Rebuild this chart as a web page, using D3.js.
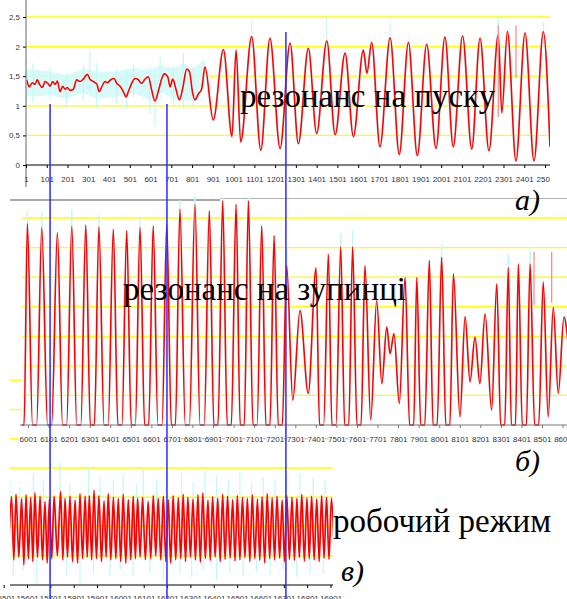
<!DOCTYPE html>
<html>
<head>
<meta charset="utf-8">
<script src="https://cdn.jsdelivr.net/npm/d3@7"></script>
<style>
  body { margin: 0; background: #fff; }
  svg { display: block; }
  .tick text { font-family: "Liberation Sans", Arial, sans-serif; font-size: 8px; fill: #333; }
  .note { font-family: "Liberation Serif", "Times New Roman", "DejaVu Serif", serif; font-size: 33px; fill: #000; }
  .tag { font-family: "Liberation Serif", "Times New Roman", "DejaVu Serif", serif; font-size: 30px; font-style: italic; fill: #000; }
</style>
</head>
<body>
<div id="chart"></div>
<script>
// ---- data ----

// a) start-up: [sample, value] of the smoothed (red) trace
const aPoints = [
  [4,1.44],[17,1.32],[31,1.39],[44,1.36],[55,1.44],[68,1.35],[81,1.31],[92,1.41],[106,1.38],[117,1.33],
  [130,1.41],[141,1.36],[152,1.42],[165,1.24],[178,1.33],[189,1.28],[200,1.31],[213,1.26],[229,1.28],[245,1.44],
  [261,1.41],[277,1.45],[296,1.53],[309,1.45],[325,1.41],[342,1.37],[353,1.24],[366,1.32],[382,1.41],[393,1.39],
  [409,1.44],[425,1.46],[438,1.38],[454,1.33],[470,1.24],[483,1.15],[494,1.24],[510,1.38],[526,1.46],[542,1.44],
  [558,1.38],[574,1.45],[590,1.49],[606,1.27],[622,1.08],[638,1.24],[655,1.46],[667,1.54],[684,1.49],[695,1.32],
  [708,1.45],[724,1.27],[740,1.10],[756,1.30],[775,1.62],[788,1.58],[804,1.21],[815,1.10],[831,1.20],[847,1.28],
  [863,1.66],[903,0.76],[952,1.95],[993,0.48],[1013,1.94],[1035,0.39],[1088,2.17],[1132,0.25],[1176,2.14],[1225,0.28],
  [1273,2.06],[1313,0.36],[1361,1.97],[1401,0.53],[1450,2.10],[1490,0.51],[1538,1.89],[1578,0.48],[1626,1.94],[1643,1.55],
  [1666,2.07],[1706,0.31],[1755,2.15],[1799,0.18],[1843,2.07],[1886,0.16],[1931,2.04],[1976,0.28],[2019,2.16],[2059,0.31],
  [2104,2.18],[2148,0.27],[2188,2.14],[2231,0.24],[2276,2.20],[2293,0.88],[2320,2.26],[2361,0.07],[2405,2.23],[2448,0.07],
  [2493,2.25],[2525,0.31]
];
// a) raw (cyan) noise: dense core of the band and the longer spikes
const aNoiseIdx  = [1, 60, 117, 197, 277, 342, 438, 518, 598, 647, 711, 759, 807, 863];
const aNoiseHigh = [1.62,1.60,1.58,1.52,1.62,1.58,1.58,1.64,1.60,1.68,1.64,1.72,1.62,1.80];
const aNoiseLow  = [1.16,1.16,1.18,1.12,1.22,1.12,1.16,1.22,1.10,1.24,1.12,1.10,1.08,1.30];
const aSpikes = [
  [4,1.77,1.0],[35,1.72,1.05],[117,1.66,1.10],[197,1.55,0.98],[277,1.69,1.10],[309,1.94,1.25],
  [342,1.72,0.96],[438,1.62,1.05],[486,1.60,0.95],[518,1.72,1.15],[598,1.66,0.87],[622,1.60,0.64],
  [647,1.83,1.10],[711,1.66,1.00],[759,1.89,0.94],[807,1.66,1.00],[1088,2.45,2.0],[1450,2.50,2.0],
  [1755,2.40,2.0],[2276,2.48,2.0],[2493,2.42,2.0]
];
// a) single outlier samples [sample, from, to]
const aOutliers = [[2276, 2.36, 0.81], [2361, 2.36, 1.47]];
const aTicks = [1,101,201,301,401,501,601,701,801,901,1001,1101,1201,1301,1401,1501,1601,1701,1801,1901,2001,2101,2201,2301,2401,2501];
const aGrid = [0.5, 1, 1.5, 2, 2.5];
const aYTicks = [0, 0.5, 1, 1.5, 2, 2.5];

// b) stopping: peaks and troughs [sample, value]
const bPeaks = [
  [5998,6.81],[6068,6.68],[6144,6.51],[6214,6.73],[6282,6.76],[6346,6.70],[6416,6.62],[6481,6.57],[6546,6.68],[6610,6.73],
  [6676,6.79],[6740,7.30],[6813,7.46],[6883,7.24],[6948,7.58],[7013,7.46],[7073,7.58],[7138,6.73],[7198,6.40],[7259,5.39],
  [7324,3.87],[7402,5.31],[7462,5.78],[7522,6.03],[7580,6.03],[7640,5.39],[7697,4.21],[7746,3.31],[7781,3.09],[7835,4.99],
  [7892,4.99],[7953,5.56],[8013,5.67],[8070,5.11],[8127,3.67],[8175,2.97],[8224,3.76],[8281,4.77],[8337,5.33],[8386,5.44],
  [8443,5.44],[8507,4.83],[8556,3.98],[8608,3.65]
];
const bTroughs = [
  [5972,0],[6033,0],[6106,0],[6179,0],[6248,0],[6314,0],[6381,0],[6448,0],[6513,0],[6578,0],
  [6643,0],[6708,0],[6776,0],[6848,0],[6915,0],[6980,0],[7043,0],[7105,0],[7168,0],[7228,0],
  [7289,0.84],[7364,1.07],[7429,0],[7489,0],[7551,0],[7611,0],[7668,0.17],[7722,1.40],[7762,2.41],[7807,0.73],
  [7867,0],[7921,0],[7981,0],[8043,0],[8102,0.28],[8151,1.46],[8199,1.40],[8256,0.51],[8310,0],[8362,0],
  [8415,0],[8475,0],[8531,0.28],[8580,1.07],[8630,2.6]
];
// b) raw (cyan) tips sticking out above some peaks [sample, value]
const bTips = [[5998,7.25],[6068,7.2],[6214,7.3],[6346,7.1],[6546,7.0],[6676,7.35],[6740,7.6],[6813,7.7],[6948,7.7],
  [7073,7.7],[7259,6.0],[7522,6.5],[7580,6.6],[8013,6.1],[8337,5.8],[8443,5.9]];
const bOutliers = [[8462, 5.86, 4.06], [8548, 5.86, 4.13]];
const bTicks = [6001,6101,6201,6301,6401,6501,6601,6701,6801,6901,7001,7101,7201,7301,7401,7501,7601,7701,7801,7901,8001,8101,8201,8301,8401,8501,8601];
const bGrid = [1, 2, 3, 4, 5, 6, 7];

// c) working mode: peaks and the troughs between them
const cPeakIdx = [
  15535,15554,15578,15597,15617,15635,15657,15678,15697,15717,
  15745,15764,15785,15807,15828,15850,15868,15888,15909,15931,
  15949,15971,15992,16013,16035,16056,16075,16096,16120,16142,
  16163,16185,16206,16227,16249,16270,16290,16312,16333,16354,
  16376,16396,16418,16439,16460,16482,16502,16524,16545,16566,
  16588,16608,16630,16651,16672,16694,16714,16736,16757,16778,
  16800,16820,16842,16863,16884,16905
];
const cPeakVal = [
  3.02,3.10,2.95,3.08,3.00,3.15,3.04,2.85,2.95,3.05,
  3.20,2.96,3.04,2.90,3.12,3.04,3.06,3.24,3.06,2.88,
  3.12,3.00,2.95,3.10,2.92,3.04,2.96,3.00,2.86,3.06,
  2.96,3.04,2.92,3.06,2.98,3.10,3.00,2.94,3.08,3.14,
  2.90,3.02,2.96,3.10,3.04,2.92,3.06,3.00,2.96,3.08,
  2.94,3.02,3.12,2.98,3.04,2.90,3.06,3.00,2.96,3.10,
  2.98,3.04,2.94,3.06,3.00,2.96
];
const cTroughVal = [
  0.86,0.95,0.69,0.90,0.80,0.95,0.86,0.75,0.90,1.00,
  0.86,0.95,0.80,0.75,0.90,0.95,0.86,0.90,0.80,0.95,
  0.86,0.90,0.80,0.75,0.86,0.90,0.95,0.86,0.90,1.00,
  0.86,0.80,0.75,0.86,0.90,0.80,0.95,0.86,0.78,0.90,
  0.84,0.96,0.80,0.88,0.92,0.82,0.86,0.94,0.80,0.90,
  0.84,0.76,0.90,0.86,0.92,0.80,0.88,0.84,0.94,0.82,
  0.90,0.86,0.80,0.92,0.88
];
// c) raw (cyan) spikes
const cSpikeUpIdx = [15528,15571,15628,15671,15742,15785,15864,15914,15971,16013,16071,16099,16156,16199,16263,16313,16363,16413,16463,16513,16563,16613,16663,16713,16770,16827,16877];
const cSpikeUpVal = [3.59,3.36,3.83,3.59,4.17,3.48,4.04,3.70,3.59,3.83,3.48,3.99,3.59,3.93,3.83,3.48,3.93,3.70,3.59,3.83,3.48,3.70,3.59,3.76,3.83,3.70,3.60];
const cSpikeDownIdx = [15542,15585,15643,15700,15771,15828,15886,15957,16000,16056,16128,16185,16256,16306,16356,16413,16470,16527,16584,16642,16699,16756,16813,16870];
const cSpikeDownVal = [0.28,0.51,0.05,0.51,0.28,0.07,0.40,0.28,0.51,0.28,0.40,0.17,0.40,0.28,0.51,0.17,0.40,0.28,0.45,0.33,0.51,0.28,0.40,0.35];
const cTicks = [15501,15601,15701,15801,15901,16001,16101,16201,16301,16401,16501,16601,16701,16801,16901];
const cGrid = [1, 2, 3, 4];

// moments marked by the blue lines (samples of panel a)
const markerIdx = [117, 680, 1253];

// ---- drawing ----
const width = 567, height = 599;
const red = "#ff0000", cyan = "#c4f7f7", paleCyan = "#e2fcfc", yellow = "#ffff00", blue = "#2b2bff";

const svg = d3.select("#chart").append("svg")
  .attr("width", width).attr("height", height);

const defs = svg.append("defs");
function clip(id, x, y, w, h) {
  defs.append("clipPath").attr("id", id).append("rect")
    .attr("x", x).attr("y", y).attr("width", w).attr("height", h);
  return `url(#${id})`;
}

const xa = d3.scaleLinear().domain([1, 2501]).range([26, 545]);
const ya = d3.scaleLinear().domain([0, 2.5]).range([165, 17]);
const xb = d3.scaleLinear().domain([6001, 8501]).range([28, 542]);
const yb = d3.scaleLinear().domain([0, 7]).range([425, 218]);
const xc = d3.scaleLinear().domain([15601, 16901]).range([27, 330.5]);
const yc = d3.scaleLinear().domain([0, 4]).range([585, 468]);

// ---------- c) working mode ----------
const gc = svg.append("g");
// grid of the lower chart, its top lines peek out at the left of b)
gc.selectAll("line.grid").data(cGrid).join("line")
  .attr("x1", 10).attr("x2", 333)
  .attr("y1", d => yc(d)).attr("y2", d => yc(d))
  .attr("stroke", yellow).attr("stroke-width", 1.3);
gc.selectAll("line.peek").data([5, 6, 7]).join("line")
  .attr("x1", 10).attr("x2", 22)
  .attr("y1", d => yc(d)).attr("y2", d => yc(d))
  .attr("stroke", yellow).attr("stroke-width", 1.3);
gc.append("line")
  .attr("x1", 168).attr("x2", 384).attr("y1", yc(5)).attr("y2", yc(5))
  .attr("stroke", "#888").attr("stroke-width", 0.8);

const cPts = [[15524, 1.6]];
cPeakIdx.forEach((p, i) => {
  cPts.push([p, cPeakVal[i]]);
  if (i < cTroughVal.length) cPts.push([(p + cPeakIdx[i + 1]) / 2, cTroughVal[i]]);
});
cPts.push([16916, 1.4]);

const gcPlot = gc.append("g").attr("clip-path", clip("clipC", 10, 440, 323, 160));
gcPlot.selectAll("line.up").data(cSpikeUpIdx).join("line")
  .attr("x1", d => xc(d)).attr("x2", d => xc(d))
  .attr("y1", yc(2)).attr("y2", (d, i) => yc(cSpikeUpVal[i]))
  .attr("stroke", cyan).attr("stroke-width", 1.2);
gcPlot.selectAll("line.down").data(cSpikeDownIdx).join("line")
  .attr("x1", d => xc(d)).attr("x2", d => xc(d))
  .attr("y1", yc(2)).attr("y2", (d, i) => yc(cSpikeDownVal[i]))
  .attr("stroke", cyan).attr("stroke-width", 1.2);

const lineC = d3.line().x(d => xc(d[0])).y(d => yc(d[1])).curve(d3.curveMonotoneX);
gcPlot.append("path").datum(cPts).attr("d", lineC)
  .attr("fill", "none").attr("stroke", red).attr("stroke-width", 1.7);

gc.append("line").attr("x1", 10).attr("x2", 333).attr("y1", 585).attr("y2", 585)
  .attr("stroke", "#000").attr("stroke-width", 1);
gc.append("g").attr("transform", "translate(0,585)")
  .call(d3.axisBottom(xc).tickValues(cTicks).tickSize(3).tickPadding(7).tickFormat(d3.format("d")))
  .call(g => g.select(".domain").remove())
  .call(g => g.selectAll(".tick line").attr("stroke", "#000"));

// ---------- b) stopping ----------
const gb = svg.append("g");
gb.append("line").attr("x1", 10).attr("x2", 220).attr("y1", 200).attr("y2", 200)
  .attr("stroke", "#555").attr("stroke-width", 1.2);
gb.append("line").attr("x1", 220).attr("x2", 567).attr("y1", 198.5).attr("y2", 198.5)
  .attr("stroke", "#b5b5b5").attr("stroke-width", 1);
gb.selectAll("line.grid").data(bGrid).join("line")
  .attr("x1", 22).attr("x2", 567)
  .attr("y1", d => yb(d)).attr("y2", d => yb(d))
  .attr("stroke", yellow).attr("stroke-width", 1.3);

const bPts = [];
bPeaks.forEach(d => bPts.push(d));
bTroughs.forEach(d => {
  if (d[1] === 0) { bPts.push([d[0] - 10, 0]); bPts.push([d[0] + 10, 0]); }
  else bPts.push(d);
});
bPts.sort((p, q) => p[0] - q[0]);

const gbPlot = gb.append("g").attr("clip-path", clip("clipB", 22, 190, 545, 240));
const lineB = d3.line().x(d => xb(d[0])).y(d => yb(d[1])).curve(d3.curveMonotoneX);
const peakOf = new Map(bPeaks);
gbPlot.selectAll("line.tip").data(bTips).join("line")
  .attr("x1", d => xb(d[0])).attr("x2", d => xb(d[0]))
  .attr("y1", d => yb(peakOf.get(d[0]) - 0.6)).attr("y2", d => yb(d[1]))
  .attr("stroke", cyan).attr("stroke-width", 1.6);
gbPlot.append("path").datum(bPts).attr("d", lineB)
  .attr("fill", "none").attr("stroke", paleCyan).attr("stroke-width", 2.6);
gbPlot.append("path").datum(bPts).attr("d", lineB)
  .attr("fill", "none").attr("stroke", red).attr("stroke-width", 1.6);
gbPlot.selectAll("line.out").data(bOutliers).join("line")
  .attr("x1", d => xb(d[0])).attr("x2", d => xb(d[0]))
  .attr("y1", d => yb(d[1])).attr("y2", d => yb(d[2]))
  .attr("stroke", "#ff8c8c").attr("stroke-width", 1.3);

gb.append("line").attr("x1", 20).attr("x2", 567).attr("y1", 425).attr("y2", 425)
  .attr("stroke", "#777").attr("stroke-width", 1);
gb.append("g").attr("transform", "translate(0,425)")
  .call(d3.axisBottom(xb).tickValues(bTicks).tickSize(3).tickPadding(8).tickFormat(d3.format("d")))
  .call(g => g.select(".domain").remove())
  .call(g => g.selectAll(".tick line").attr("stroke", "#777"))
  .call(g => g.selectAll(".tick text").attr("stroke", "#fff").attr("stroke-width", 2.5)
    .attr("paint-order", "stroke"));

// ---------- a) start-up ----------
const ga = svg.append("g");
ga.selectAll("line.grid").data(aGrid).join("line")
  .attr("x1", 26).attr("x2", 550)
  .attr("y1", d => ya(d)).attr("y2", d => ya(d))
  .attr("stroke", yellow).attr("stroke-width", 1.3);

const gaPlot = ga.append("g").attr("clip-path", clip("clipA", 26, 0, 524, 166));
const noise = aNoiseIdx.map((d, i) => [d, aNoiseLow[i], aNoiseHigh[i]]);
gaPlot.append("path").datum(noise)
  .attr("d", d3.area().x(d => xa(d[0])).y0(d => ya(d[1])).y1(d => ya(d[2])).curve(d3.curveLinear))
  .attr("fill", "#d3fafa").attr("opacity", 0.9);
gaPlot.selectAll("line.spike").data(aSpikes).join("line")
  .attr("x1", d => xa(d[0])).attr("x2", d => xa(d[0]))
  .attr("y1", d => ya(d[1])).attr("y2", d => ya(d[2]))
  .attr("stroke", cyan).attr("stroke-width", 1.2);
const lineA = d3.line().x(d => xa(d[0])).y(d => ya(d[1])).curve(d3.curveMonotoneX);
gaPlot.append("path").datum(aPoints).attr("d", lineA)
  .attr("fill", "none").attr("stroke", paleCyan).attr("stroke-width", 3.2);
gaPlot.append("path").datum(aPoints).attr("d", lineA)
  .attr("fill", "none").attr("stroke", red).attr("stroke-width", 1.6);
gaPlot.selectAll("line.out").data(aOutliers).join("line")
  .attr("x1", d => xa(d[0])).attr("x2", d => xa(d[0]))
  .attr("y1", d => ya(d[1])).attr("y2", d => ya(d[2]))
  .attr("stroke", "#ff8c8c").attr("stroke-width", 1.3);

// axes of a)
ga.append("line").attr("x1", 26).attr("x2", 26).attr("y1", 0).attr("y2", 187)
  .attr("stroke", "#9a9a9a").attr("stroke-width", 1.5);
ga.append("line").attr("x1", 26).attr("x2", 550).attr("y1", 165).attr("y2", 165)
  .attr("stroke", "#000").attr("stroke-width", 1);
ga.append("g").attr("transform", "translate(0,165)")
  .attr("clip-path", clip("clipAx", 0, -5, 550, 30))
  .call(d3.axisBottom(xa).tickValues(aTicks).tickSize(3).tickPadding(8).tickFormat(d3.format("d")))
  .call(g => g.select(".domain").remove())
  .call(g => g.selectAll(".tick line").attr("stroke", "#000"));
ga.append("g").attr("transform", "translate(26,0)")
  .call(d3.axisLeft(ya).tickValues(aYTicks).tickSize(3).tickPadding(3)
    .tickFormat(d => String(d).replace(".", ",")))
  .call(g => g.select(".domain").remove())
  .call(g => g.selectAll(".tick line").attr("stroke", "#000"));

// blue markers through all three records
const markerTop = [104, 104, 32];
svg.selectAll("line.marker").data(markerIdx).join("line")
  .attr("x1", d => xa(d)).attr("x2", d => xa(d))
  .attr("y1", (d, i) => markerTop[i]).attr("y2", height)
  .attr("stroke", blue).attr("stroke-width", 1.5);

// captions
svg.append("text").attr("class", "note").attr("x", 240).attr("y", 107).text("резонанс на пуску");
svg.append("text").attr("class", "tag").attr("x", 515).attr("y", 210).text("а)");
svg.append("text").attr("class", "note").attr("x", 123).attr("y", 300).text("резонанс на зупинці");
svg.append("text").attr("class", "tag").attr("x", 515).attr("y", 471).text("б)");
svg.append("text").attr("class", "note").attr("x", 333).attr("y", 532).text("робочий режим");
svg.append("text").attr("class", "tag").attr("x", 341).attr("y", 581).text("в)");
</script>
</body>
</html>
